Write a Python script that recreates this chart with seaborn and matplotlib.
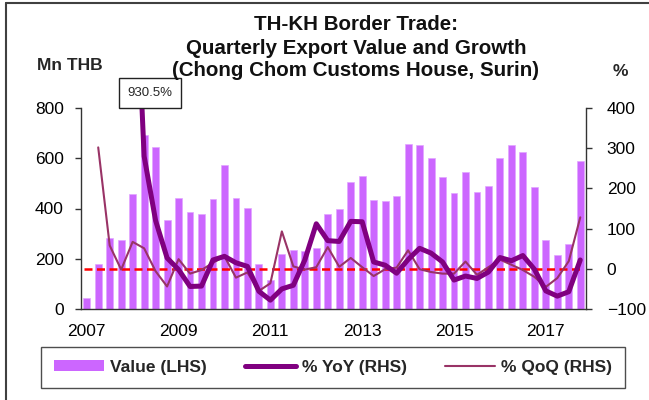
import numpy as np
import pandas as pd
import matplotlib
matplotlib.use("Agg")
import matplotlib.pyplot as plt
from matplotlib.lines import Line2D
from matplotlib.patches import Patch
import seaborn as sns

# Quarterly exports through Chong Chom customs house, 2007Q1 - 2017Q4
years = list(range(2007, 2018))
quarters = [f"{y}Q{q}" for y in years for q in range(1, 5)]

value_mn_thb = [45, 179, 284, 275, 458, 692, 643, 353, 440, 387, 378, 436,
                573, 440, 402, 180, 114, 219, 235, 231, 244, 378, 397, 504,
                531, 435, 430, 449, 658, 653, 601, 525, 460, 544, 466, 488,
                600, 651, 626, 487, 273, 214, 257, 588]

yoy_pct = [np.nan, np.nan, np.nan, np.nan,
           930.5, 280, 120, 27, -2, -44, -43, 22, 31, 15, 6, -56,
           -78, -50, -41, 22, 112, 70, 68, 118, 117, 17, 9, -11,
           23, 51, 39, 17, -28, -18, -24, -8, 28, 20, 33, -1,
           -55, -68, -57, 22]

qoq_pct = [np.nan, 302, 58, -2, 67, 51, -6, -44, 24, -12, -3, 15,
           31, -22, -9, -55, -36, 93, 6, -2, 4, 54, 5, 27,
           4, -18, -1, 3, 46, -1, -8, -12, -12, 18, -15, 4,
           23, 10, -3, -20, -45, -23, 19, 128]

year_labels = [str(y) for y in years[::2]]

df = pd.DataFrame({
    "quarter": quarters,
    "pos": np.arange(len(quarters)),
    "value": value_mn_thb,
    "yoy": yoy_pct,
    "qoq": qoq_pct,
})

BAR = "#CC66FF"
YOY = "#800080"
QOQ = "#993366"
AXC = "#333333"

sns.set_style("white")
plt.rcParams["font.family"] = ["Liberation Sans", "DejaVu Sans"]

W, H = 649, 400
fig = plt.figure(figsize=(W / 100, H / 100), dpi=100)
fig.patch.set_facecolor("white")

ax = fig.add_axes([81 / W, 1 - 309 / H, (586 - 81) / W, (309 - 108) / H])
sns.barplot(data=df, x="quarter", y="value", color=BAR, saturation=1,
            width=0.6, edgecolor="#E2A6FF", linewidth=0.5, ax=ax)

ax2 = ax.twinx()
ax2.axhline(0, xmin=0.006, xmax=0.988, color="#FF0000", lw=1.8,
            ls=(0, (3.2, 1.8)), zorder=1)
sns.lineplot(data=df, x="pos", y="qoq", color=QOQ, lw=1.5, ax=ax2, zorder=2,
             solid_joinstyle="round")
sns.lineplot(data=df, x="pos", y="yoy", color=YOY, lw=3.6, ax=ax2, zorder=3,
             solid_joinstyle="round")

# Left axis: value
ax.set_ylim(0, 800)
ax.set_yticks(np.arange(0, 801, 200))
ax.set_xlim(-0.5, len(quarters) - 0.5)
ax.set_xlabel("")
ax.set_ylabel("")

# Year boundaries as tick marks, labels under Q1 of every other year
ax.set_xticks(np.arange(-0.5, len(quarters), 4))
ax.set_xticklabels([])
ax.set_xticks(np.arange(0, len(quarters), 8), minor=True)
ax.set_xticklabels(year_labels, minor=True)
ax.tick_params(axis="x", which="major", direction="out", length=5, width=1,
               color=AXC)
ax.tick_params(axis="x", which="minor", length=0, pad=11, labelsize=12.5,
               labelcolor="black")
ax.tick_params(axis="y", direction="out", length=4, width=1, color=AXC,
               pad=8.5, labelsize=12.5, left=True, labelcolor="black")

# Right axis: growth rates
ax2.set_ylim(-100, 400)
ax2.set_yticks(np.arange(-100, 401, 100))
ax2.set_xlim(-0.5, len(quarters) - 0.5)
ax2.set_xlabel("")
ax2.set_ylabel("")
ax2.tick_params(axis="y", direction="out", length=4, width=1, color=AXC,
                pad=11, labelsize=12.5, right=True, labelcolor="black")

for s in ["top", "right"]:
    ax.spines[s].set_visible(False)
for s in ["left", "bottom"]:
    ax.spines[s].set_color(AXC)
    ax.spines[s].set_linewidth(1)
for s in ["top", "left", "bottom"]:
    ax2.spines[s].set_visible(False)
ax2.spines["right"].set_color(AXC)
ax2.spines["right"].set_linewidth(1)

# Off-scale YoY peak
peak_i = int(np.nanargmax(yoy_pct))
ax2.annotate(f"{yoy_pct[peak_i]}%", xy=(peak_i, yoy_pct[peak_i]),
             xytext=(150 / W, 1 - 93 / H), textcoords="figure fraction",
             ha="center", va="center", fontsize=9.5, annotation_clip=False,
             bbox=dict(boxstyle="square,pad=0.68", fc="white", ec="#222222",
                       lw=1))

# Titles and axis units
title_lines = ["TH-KH Border Trade:",
               "Quarterly Export Value and Growth",
               "(Chong Chom Customs House, Surin)"]
for txt, yc in zip(title_lines, [25, 48, 70]):
    fig.text(356 / W, 1 - yc / H, txt, ha="center", va="center",
             fontsize=14.8, fontweight="bold", color="#111111")
fig.text(70 / W, 1 - 66 / H, "Mn THB", ha="center", va="center",
         fontsize=12.5, fontweight="bold")
fig.text(620 / W, 1 - 71 / H, "%", ha="center", va="center",
         fontsize=12.5, fontweight="bold")

# Legend
handles = [Patch(facecolor=BAR, edgecolor="none"),
           Line2D([], [], color=YOY, lw=3.6),
           Line2D([], [], color=QOQ, lw=1.5)]
labels = ["Value (LHS)", "% YoY (RHS)", "% QoQ (RHS)"]
leg = fig.legend(handles, labels, ncol=3, loc="center",
                 bbox_to_anchor=(333 / W, 1 - 367.5 / H),
                 frameon=True, fancybox=False, edgecolor="#222222",
                 prop=dict(size=12.5, weight="bold"),
                 handlelength=2.9, handleheight=0.6, handletextpad=0.35,
                 columnspacing=2.2, borderpad=0.75)
leg.get_frame().set_linewidth(1)

# Outer chart border (top and left edges)
fig.add_artist(Line2D([6 / W, 1], [1 - 3 / H, 1 - 3 / H],
                      transform=fig.transFigure, color="#404040", lw=1.5))
fig.add_artist(Line2D([6 / W, 6 / W], [0, 1 - 3 / H],
                      transform=fig.transFigure, color="#404040", lw=1.5))

fig.savefig("out.png", dpi=100, facecolor="white")
